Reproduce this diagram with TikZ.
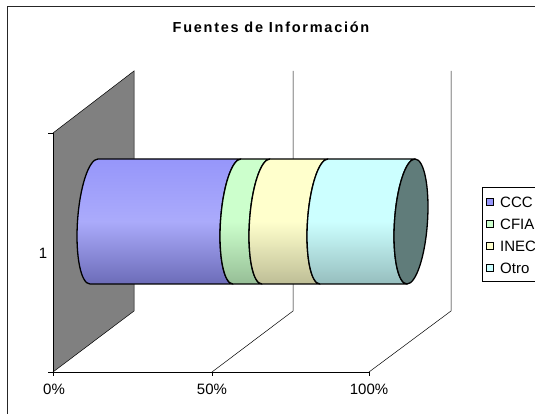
\documentclass[tikz,border=0pt]{standalone}
\usepackage{fontspec}
\setmainfont{Liberation Sans}
\definecolor{wallgray}{RGB}{128,128,128}
\definecolor{cccT}{RGB}{150,150,250}
\definecolor{cccB}{RGB}{108,108,184}
\definecolor{cfiaT}{RGB}{204,255,204}
\definecolor{cfiaB}{RGB}{150,190,150}
\definecolor{inecT}{RGB}{255,255,204}
\definecolor{inecB}{RGB}{190,190,150}
\definecolor{otroT}{RGB}{204,255,255}
\definecolor{otroB}{RGB}{150,190,190}
\definecolor{capcol}{RGB}{96,124,122}
\newcommand{\cylseg}[3]{%
  \path[#3] (#1,62.5) -- (#2,62.5) arc[start angle=90,end angle=270,x radius=16.5,y radius=62.5]
    -- (#1,-62.5) arc[start angle=270,end angle=90,x radius=16.5,y radius=62.5] -- cycle;}
\tikzset{
  axisline/.style={draw=black,line width=0.6pt},
  gridline/.style={draw=black,line width=0.5pt},
  seg/.style={draw=black,line width=1.3pt,line join=round},
  lbl/.style={font=\fontsize{15}{17}\selectfont,inner sep=0pt},
  legsq/.style={draw=black,line width=0.6pt,minimum size=7pt,inner sep=0pt},
}
\begin{document}
\begin{tikzpicture}[x=1pt,y=1pt]
\clip (0,0) rectangle (535,414);
\useasboundingbox (0,0) rectangle (535,414);
% frame
\draw[line width=1.4pt,draw=black!85] (7.5,-5) -- (7.5,407.5) -- (545,407.5);
% title
\node[inner sep=0pt,font=\fontsize{14.5}{16}\selectfont\bfseries\addfontfeatures{LetterSpace=12}] (title) at (271,386.5) {Fuentes de Información};
% wall
\coordinate (wTL) at (53,281);
\coordinate (wTR) at (134,343);
\coordinate (wBR) at (134,103);
\coordinate (wBL) at (53,42);
\fill[wallgray] (wTL) -- (wTR) -- (wBR) -- (wBL) -- cycle;
\draw[gridline] (wTL) -- (wTR) -- (wBR) -- (wBL);
\draw[axisline] (wBL) -- (wTL);
% floor & grid
\coordinate (f50) at (212,42);
\coordinate (f100) at (369,42);
\coordinate (g50b) at (293,103);
\coordinate (g50t) at (293,343);
\coordinate (g100b) at (451,103);
\coordinate (g100t) at (451,343);
\draw[axisline] (wBL) -- (f100);
\draw[gridline] (f50) -- (g50b) -- (g50t);
\draw[gridline] (f100) -- (g100b) -- (g100t);
% ticks
\coordinate (t0) at (53,38);
\coordinate (t50) at (212,38);
\coordinate (t100) at (369,38);
\coordinate (lt1) at (48,281);
\coordinate (lt2) at (48,42);
\draw[axisline] (wBL) -- (t0) (f50) -- (t50) (f100) -- (t100) (wTL) -- (lt1) (wBL) -- (lt2);
% labels
\node[lbl] (l0) at (54,25) {0\%};
\node[lbl] (l50) at (212,25) {50\%};
\node[lbl] (l100) at (369,25) {100\%};
\node[lbl] (l1) at (43,161) {1};
% cylinder
\begin{scope}[shift={(0,192.5)},xslant=0.064]
\cylseg{94}{237}{seg,top color=cccT,bottom color=cccB,middle color=cccT!80!white}
\cylseg{237}{266}{seg,top color=cfiaT,bottom color=cfiaB,middle color=cfiaT}
\cylseg{266}{324}{seg,top color=inecT,bottom color=inecB,middle color=inecT}
\cylseg{324}{411}{seg,top color=otroT,bottom color=otroB,middle color=otroT}
\draw[seg,fill=capcol] (411,0) ellipse[x radius=16.5,y radius=62.5];
\end{scope}
% legend
\draw[line width=0.7pt] (482,133) rectangle (560,227);
\node[legsq,fill=cccT] (s1) at (490,212) {};
\node[legsq,fill=cfiaT] (s2) at (490,190) {};
\node[legsq,fill=inecT] (s3) at (490,168) {};
\node[legsq,fill=otroT] (s4) at (490,146) {};
\node[lbl,anchor=west] (e1) at (500,212) {CCC};
\node[lbl,anchor=west] (e2) at (500,190) {CFIA};
\node[lbl,anchor=west] (e3) at (500,168) {INEC};
\node[lbl,anchor=west] (e4) at (500,146) {Otro};
\end{tikzpicture}
\end{document}
